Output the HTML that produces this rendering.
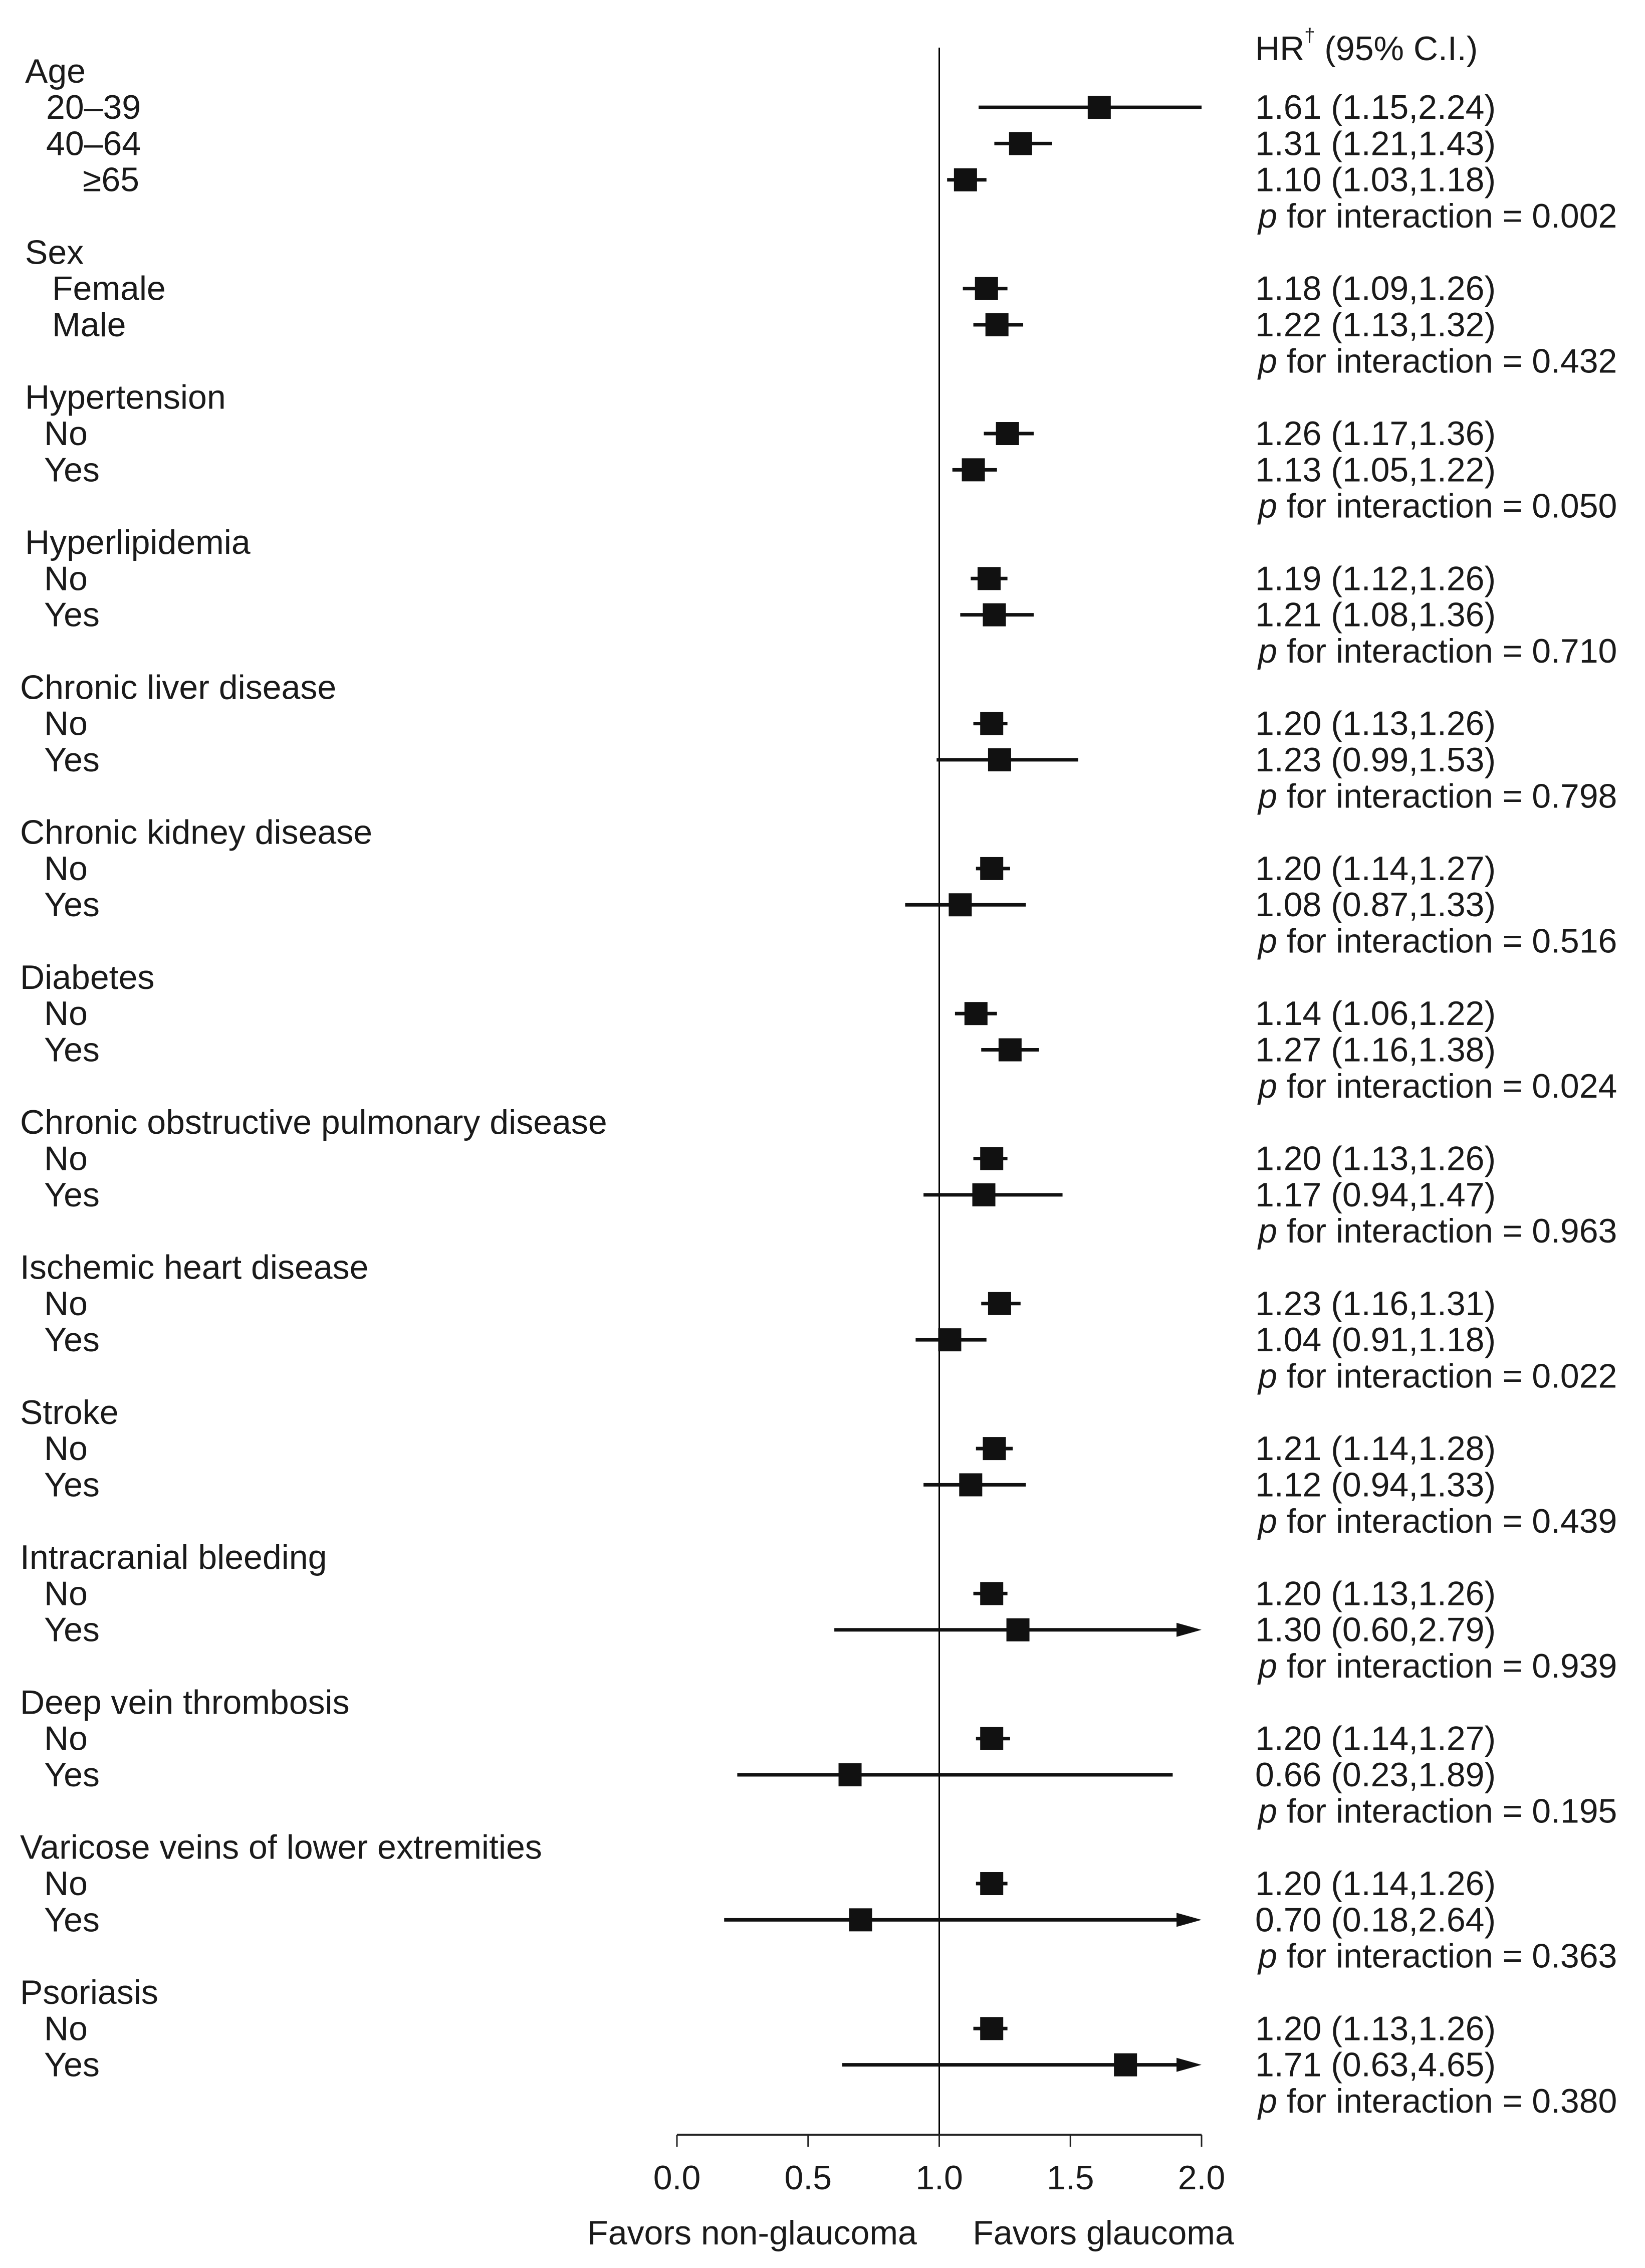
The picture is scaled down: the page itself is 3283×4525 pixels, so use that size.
<!DOCTYPE html>
<html><head><meta charset="utf-8"><style>
html,body{margin:0;padding:0;background:#fff;}
svg{display:block;font-family:"Liberation Sans",sans-serif;}
</style></head><body>
<svg id="chart" width="3283" height="4525" viewBox="0 0 3283 4525" xmlns="http://www.w3.org/2000/svg">
<rect width="3283" height="4525" fill="#fff"/>
<g id="plot"></g>
</svg>
<script>
const groupNames = ["Age","Sex","Hypertension","Hyperlipidemia","Chronic liver disease","Chronic kidney disease","Diabetes","Chronic obstructive pulmonary disease","Ischemic heart disease","Stroke","Intracranial bleeding","Deep vein thrombosis","Varicose veins of lower extremities","Psoriasis"];
const subLabels = [["20\u201339","40\u201364","\u226565"],["Female","Male"],["No","Yes"],["No","Yes"],["No","Yes"],["No","Yes"],["No","Yes"],["No","Yes"],["No","Yes"],["No","Yes"],["No","Yes"],["No","Yes"],["No","Yes"],["No","Yes"]];
const hrValues = [[1.61,1.31,1.10],[1.18,1.22],[1.26,1.13],[1.19,1.21],[1.20,1.23],[1.20,1.08],[1.14,1.27],[1.20,1.17],[1.23,1.04],[1.21,1.12],[1.20,1.30],[1.20,0.66],[1.20,0.70],[1.20,1.71]];
const ciLow = [[1.15,1.21,1.03],[1.09,1.13],[1.17,1.05],[1.12,1.08],[1.13,0.99],[1.14,0.87],[1.06,1.16],[1.13,0.94],[1.16,0.91],[1.14,0.94],[1.13,0.60],[1.14,0.23],[1.14,0.18],[1.13,0.63]];
const ciHigh = [[2.24,1.43,1.18],[1.26,1.32],[1.36,1.22],[1.26,1.36],[1.26,1.53],[1.27,1.33],[1.22,1.38],[1.26,1.47],[1.31,1.18],[1.28,1.33],[1.26,2.79],[1.27,1.89],[1.26,2.64],[1.26,4.65]];
const pValues = ["0.002","0.432","0.050","0.710","0.798","0.516","0.024","0.963","0.022","0.439","0.939","0.195","0.363","0.380"];
const xTicks = [0.0,0.5,1.0,1.5,2.0];
const xTickLabels = ["0.0","0.5","1.0","1.5","2.0"];

const NS="http://www.w3.org/2000/svg";
const g=document.getElementById('plot');
const X0=1351, X1=2398, XMIN=0, XMAX=2;
function xs(v){return X0+(v-XMIN)/(XMAX-XMIN)*(X1-X0);}
function ys(i){return (49+25*i)*2.893;}
function el(tag,attrs){const e=document.createElementNS(NS,tag);for(const k in attrs)e.setAttribute(k,attrs[k]);g.appendChild(e);return e;}
const FS=68, COL="#1a1a1a";
function txt(x,y,s,anchor){const t=el('text',{x:x,y:y,'font-size':FS,fill:COL,'dominant-baseline':'central','text-anchor':anchor||'start'});t.textContent=s;return t;}

const hdr=el('text',{x:2505,y:97,'font-size':FS,fill:COL,'dominant-baseline':'central'});


hdr.innerHTML='HR<tspan dy="-26" font-size="38">\u2020</tspan><tspan dy="26"> (95% C.I.)</tspan>';

const axisY=4259;
const ref=el('line',{x1:xs(1),x2:xs(1),y1:95,y2:axisY,stroke:'#000','stroke-width':3});



let row=0;
groupNames.forEach((gn,gi)=>{
  const h=txt(gi<4?50:40,ys(row),gn);
  
  
  row++;
  subLabels[gi].forEach((sl,si)=>{
    const y=ys(row);
    let lx=gi===0?(si===2?165:92):(gi===1?104:88);
    const l=txt(lx,y,sl);
    
    
    const hr=hrValues[gi][si], lo=ciLow[gi][si], hi=ciHigh[gi][si];
    const arrow=hi>2.5;
    const xe=arrow?xs(XMAX)-30:xs(Math.min(hi,XMAX));
    const ci=el('line',{x1:xs(lo),x2:xe,y1:y,y2:y,stroke:'#111','stroke-width':7});
    
    
    if(arrow){
      const a=el('polygon',{points:`${xs(XMAX)},${y} ${xs(XMAX)-50},${y-14} ${xs(XMAX)-50},${y+14}`,fill:'#111'});
      
      
    }
    const sq=el('rect',{x:xs(hr)-23,y:y-23,width:46,height:46,fill:'#111'});
    
    
    const v=txt(2505,y,hr.toFixed(2)+' ('+lo.toFixed(2)+','+hi.toFixed(2)+')');
    
    
    row++;
  });
  const p=el('text',{x:2511,y:ys(row),'font-size':FS,fill:COL,'dominant-baseline':'central'});
  p.innerHTML='<tspan font-style="italic">p</tspan> for interaction '+(gi===0?' ':'')+'= '+pValues[gi];
  
  
  row++;
});

const ax=el('line',{x1:X0,x2:X1,y1:axisY,y2:axisY,stroke:'#222','stroke-width':4});


xTicks.forEach((t,i)=>{
  const tk=el('line',{x1:xs(t),x2:xs(t),y1:axisY,y2:axisY+24,stroke:'#222','stroke-width':3});
  
  
  const tl=txt(xs(t),4345,xTickLabels[i],'middle');
  
  
});
const f1=txt(1501,4455,'Favors non-glaucoma','middle');


const f2=txt(2202,4455,'Favors glaucoma','middle');


</script>
</body></html>
